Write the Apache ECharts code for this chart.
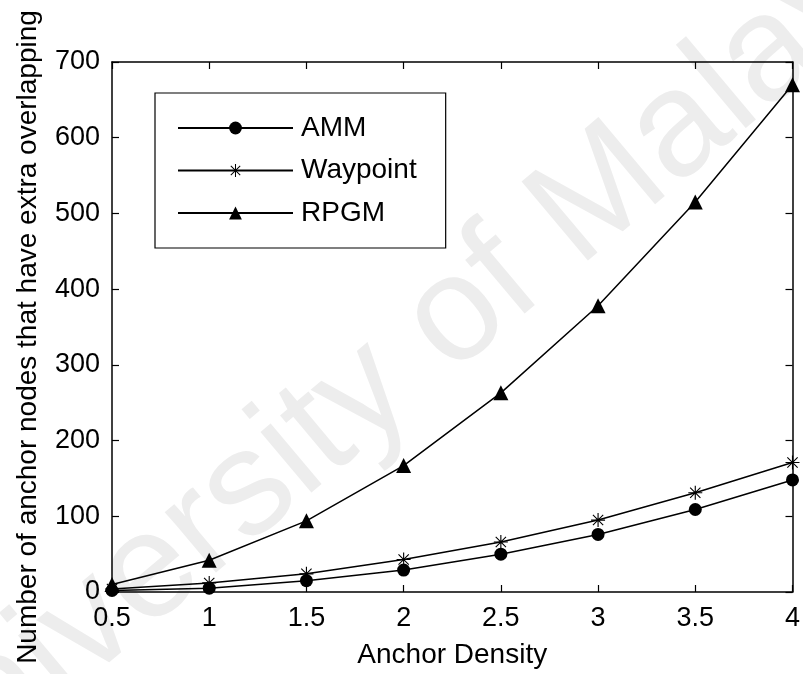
<!DOCTYPE html>
<html>
<head>
<meta charset="utf-8">
<script src="https://cdn.jsdelivr.net/npm/echarts@6/dist/echarts.min.js"></script>
<style>html,body{margin:0;padding:0;background:#fff;}#c{width:803px;height:674px;}</style>
</head>
<body>
<div id="c"></div>
<script>
var xValues = [0.5, 1, 1.5, 2, 2.5, 3, 3.5, 4];
var ammValues = [2, 5, 15, 29, 50, 76, 109, 148];
var waypointValues = [4, 12, 24, 43, 66, 95, 131, 171];
var rpgmValues = [10, 42, 94, 167, 263, 378, 515, 670];
var seriesNames = ['AMM', 'Waypoint', 'RPGM'];
var xTitle = 'Anchor Density';
var yTitle = 'Number of anchor nodes that have extra overlapping';
var watermarkText = 'University of Malaya';

var FONT = "'Liberation Sans', Arial, Helvetica, sans-serif";
var asterisk = 'path://M9.2 0L10.8 0L10.8 20L9.2 20Z M0 9.2L20 9.2L20 10.8L0 10.8Z M2.1 3.2L3.2 2.1L17.9 16.8L16.8 17.9Z M16.8 2.1L17.9 3.2L3.2 17.9L2.1 16.8Z';

function pairs(vals) { return xValues.map(function (x, i) { return [x, vals[i]]; }); }

var chart = echarts.init(document.getElementById('c'), null, {renderer: 'canvas'});
var lineStyle = {color: '#000', width: 1.5};
var tickCommon = {show: true, inside: true, length: 7, lineStyle: {color: '#000', width: 1.2}};
chart.setOption({
  backgroundColor: '#fff',
  animation: false,
  graphic: [{
    type: 'text', z: -10, silent: true,
    x: 405, y: 360,
    rotation: Math.PI * 40 / 180,
    style: {text: watermarkText, fontSize: 150, fontFamily: FONT, fill: '#ededed', textAlign: 'center', textVerticalAlign: 'middle'}
  }],
  grid: {left: 112, right: 8, top: 62, bottom: 79, containLabel: false},
  legend: {
    orient: 'vertical', left: 155, top: 93,
    data: seriesNames,
    itemWidth: 115, itemHeight: 16, itemGap: 14.5,
    padding: [21, 29, 21, 22],
    borderColor: '#000', borderWidth: 1.2, backgroundColor: '#fff',
    textStyle: {fontSize: 28, fontFamily: FONT, color: '#000', padding: [0, 0, 0, 3]}
  },
  xAxis: [{
    type: 'value', min: 0.5, max: 4, interval: 0.5, position: 'bottom',
    name: xTitle, nameLocation: 'middle', nameGap: 49,
    nameTextStyle: {fontSize: 28, fontFamily: FONT, color: '#000'},
    axisLine: {show: true, onZero: false, lineStyle: {color: '#000', width: 1.5}},
    axisTick: tickCommon,
    axisLabel: {fontSize: 27, fontFamily: FONT, color: '#000', margin: 13},
    splitLine: {show: false}
  }, {
    type: 'value', min: 0.5, max: 4, interval: 0.5, position: 'top',
    axisLine: {show: true, onZero: false, lineStyle: {color: '#000', width: 1.5}},
    axisTick: tickCommon, axisLabel: {show: false}, splitLine: {show: false}
  }],
  yAxis: [{
    type: 'value', min: 0, max: 700, interval: 100, position: 'left',
    name: yTitle, nameLocation: 'middle', nameGap: 70,
    nameTextStyle: {fontSize: 28, fontFamily: FONT, color: '#000', padding: [0, 20, 0, 0]},
    axisLine: {show: true, onZero: false, lineStyle: {color: '#000', width: 1.5}},
    axisTick: tickCommon,
    axisLabel: {fontSize: 27, fontFamily: FONT, color: '#000', margin: 12},
    splitLine: {show: false}
  }, {
    type: 'value', min: 0, max: 700, interval: 100, position: 'right',
    axisLine: {show: true, onZero: false, lineStyle: {color: '#000', width: 1.5}},
    axisTick: tickCommon, axisLabel: {show: false}, splitLine: {show: false}
  }],
  series: [{
    name: seriesNames[0], type: 'line', data: pairs(ammValues),
    symbol: 'circle', symbolSize: 13, lineStyle: lineStyle,
    itemStyle: {color: '#000'}, z: 3
  }, {
    name: seriesNames[1], type: 'line', data: pairs(waypointValues),
    symbol: asterisk, symbolSize: 14, lineStyle: lineStyle,
    itemStyle: {color: '#000'}, z: 3
  }, {
    name: seriesNames[2], type: 'line', data: pairs(rpgmValues),
    symbol: 'triangle', symbolSize: 15, lineStyle: lineStyle,
    itemStyle: {color: '#000'}, z: 3
  }]
});
</script>
</body>
</html>
